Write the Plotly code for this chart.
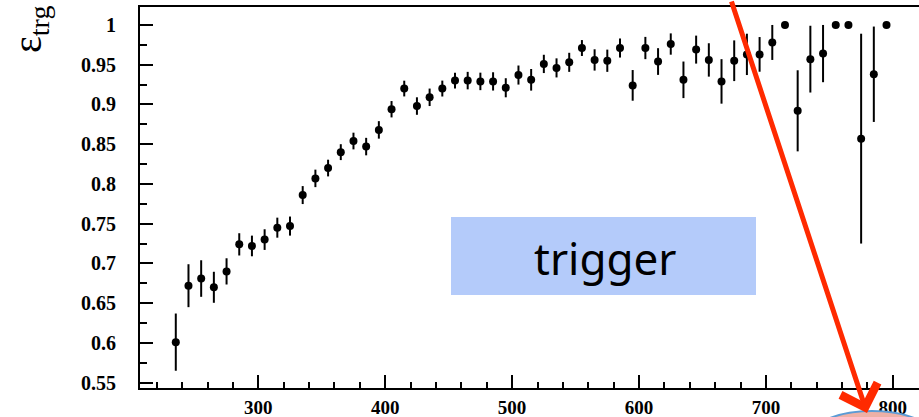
import plotly.graph_objects as go

# ---- data ----
mass = [235, 245, 255, 265, 275, 285, 295, 305, 315, 325,
        335, 345, 355, 365, 375, 385, 395, 405, 415, 425,
        435, 445, 455, 465, 475, 485, 495, 505, 515, 525,
        535, 545, 555, 565, 575, 585, 595, 605, 615, 625,
        635, 645, 655, 665, 675, 685, 695, 705, 715, 725,
        735, 745, 755, 765, 775, 785, 795]
eff = [0.601, 0.672, 0.681, 0.670, 0.690, 0.724, 0.722, 0.730, 0.745, 0.747,
       0.786, 0.807, 0.820, 0.840, 0.854, 0.847, 0.868, 0.894, 0.920, 0.898,
       0.909, 0.920, 0.930, 0.930, 0.929, 0.929, 0.921, 0.937, 0.931, 0.951,
       0.946, 0.953, 0.971, 0.956, 0.955, 0.971, 0.924, 0.971, 0.954, 0.976,
       0.931, 0.969, 0.956, 0.929, 0.955, 0.963, 0.963, 0.978, 1.000, 0.892,
       0.957, 0.964, 1.000, 1.000, 0.857, 0.938, 1.000]
err = [0.036, 0.027, 0.023, 0.0195, 0.0165, 0.014, 0.013, 0.013, 0.0126, 0.012,
       0.0113, 0.011, 0.0105, 0.010, 0.0105, 0.011, 0.011, 0.0103, 0.0099, 0.011,
       0.011, 0.010, 0.010, 0.011, 0.011, 0.0115, 0.012, 0.012, 0.0136, 0.0115,
       0.012, 0.012, 0.010, 0.0134, 0.014, 0.012, 0.0193, 0.014, 0.0168, 0.0134,
       0.023, 0.0176, 0.021, 0.028, 0.0256, 0.026, 0.0218, 0.022, 0.0, 0.051,
       0.042, 0.036, 0.0, 0.0, 0.132, 0.060, 0.0]

x_ticks = [300, 400, 500, 600, 700, 800]
y_ticks = [0.55, 0.6, 0.65, 0.7, 0.75, 0.8, 0.85, 0.9, 0.95, 1.0]
y_tick_text = ["0.55", "0.6", "0.65", "0.7", "0.75", "0.8", "0.85", "0.9", "0.95", "1"]

W, H = 919, 417
L, R, T, B = 140, 0, 7, 29
PW, PH = W - L - R, H - T - B


def px(xp):
    return (xp - L) / PW


def py(yp):
    return (H - B - yp) / PH


ytickfont = dict(family="Liberation Serif", size=20, color="black", weight="bold")
xtickfont = dict(family="Liberation Serif", size=19, color="black", weight="bold")

fig = go.Figure()
fig.add_trace(go.Scatter(
    x=mass, y=eff, mode="markers",
    marker=dict(color="black", size=8),
    error_y=dict(type="data", array=err, visible=True, width=0,
                 thickness=2, color="black"),
    showlegend=False, cliponaxis=False,
))

# label box
fig.add_shape(type="rect", xref="paper", yref="paper",
              x0=px(451), x1=px(756), y0=py(295), y1=py(217),
              fillcolor="#b4cbfa", line=dict(width=0), layer="below")
fig.add_annotation(xref="paper", yref="paper", x=px(605), y=py(258),
                   text="trigger", showarrow=False,
                   font=dict(family="Noto Sans", size=44, color="black"),
                   xanchor="center", yanchor="middle")

# y-axis title
fig.add_annotation(xref="paper", yref="paper", x=px(30), y=py(30),
                   text="ε<sub>trg</sub>", showarrow=False, textangle=-90,
                   font=dict(family="Liberation Serif", size=40, color="black"),
                   xanchor="center", yanchor="middle")

# ellipse at the bottom right
fig.add_shape(type="circle", xref="paper", yref="paper",
              x0=px(806), x1=px(938), y0=py(472), y1=py(411),
              fillcolor="#eeb0a6", line=dict(color="#5b9bd5", width=2),
              layer="above")

# red arrow
fig.add_annotation(xref="paper", yref="paper", x=px(867), y=py(413),
                   ax=-136, ay=-432, axref="pixel", ayref="pixel",
                   text="", showarrow=True, arrowhead=4, arrowsize=1.5,
                   arrowwidth=5, arrowcolor="#ff2a00", standoff=0)

fig.update_layout(
    width=W, height=H,
    margin=dict(l=L, r=R, t=T, b=B, pad=0, autoexpand=False),
    paper_bgcolor="white", plot_bgcolor="white",
    xaxis=dict(range=[206.8, 820.6], tickvals=x_ticks, automargin=False,
               ticks="inside", ticklen=13, tickwidth=1.5, tickcolor="black",
               minor=dict(dtick=20, tick0=200, ticks="inside", ticklen=6,
                          tickwidth=1.5, tickcolor="black", showgrid=False),
               showline=True, linecolor="black", linewidth=2, mirror=True,
               showgrid=False, zeroline=False, tickfont=xtickfont,
               ticklabelstandoff=1),
    yaxis=dict(range=[0.5433, 1.0226], tickvals=y_ticks, ticktext=y_tick_text,
               automargin=False,
               ticks="inside", ticklen=13, tickwidth=1.5, tickcolor="black",
               minor=dict(dtick=0.025, tick0=0.525, ticks="inside", ticklen=7,
                          tickwidth=1.5, tickcolor="black", showgrid=False),
               showline=True, linecolor="black", linewidth=2, mirror=False,
               showgrid=False, zeroline=False, tickfont=ytickfont,
               ticklabelstandoff=18),
)

fig.write_html("out.html")
